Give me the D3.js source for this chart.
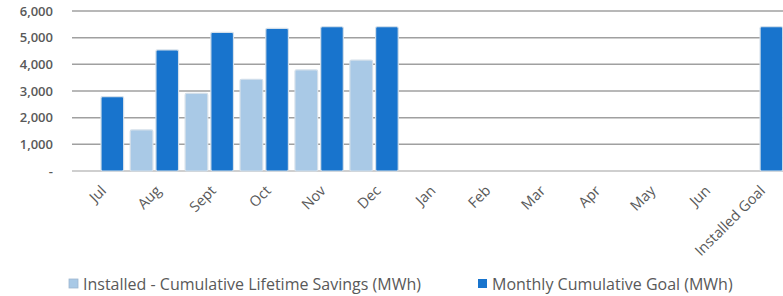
<!DOCTYPE html>
<html>
<head>
<meta charset="utf-8">
<script src="https://cdn.jsdelivr.net/npm/d3@7"></script>
<style>
  body { margin: 0; background: #fff; }
  text { font-family: "Open Sans", "Liberation Sans", sans-serif; fill: #595959; }
</style>
</head>
<body>
<svg id="chart"></svg>
<script>
const width = 783;
const height = 296;

const categories = ["Jul", "Aug", "Sept", "Oct", "Nov", "Dec", "Jan", "Feb", "Mar", "Apr", "May", "Jun", "Installed Goal"];
const installed = [0, 1540, 2910, 3440, 3790, 4160, null, null, null, null, null, null, null];
const goal = [2790, 4540, 5200, 5350, 5410, 5410, null, null, null, null, null, null, 5410];
const yTicks = [0, 1000, 2000, 3000, 4000, 5000, 6000];
const seriesNames = ["Installed - Cumulative Lifetime Savings (MWh)", "Monthly Cumulative Goal (MWh)"];
const colors = ["#a9c9e6", "#1874cd"];

const margin = { top: 11, right: 0, bottom: 125, left: 72 };

const svg = d3.select("#chart").attr("width", width).attr("height", height);

const x = d3.scaleBand()
    .domain(categories)
    .range([margin.left, 786])
    .paddingInner(0.12)
    .paddingOuter(0.06);

const xSub = d3.scaleBand()
    .domain([0, 1])
    .range([0, x.bandwidth()])
    .paddingInner(0.12);

const y = d3.scaleLinear()
    .domain([0, 6000])
    .range([height - margin.bottom, margin.top]);

// gridlines
svg.append("g")
    .selectAll("line")
    .data(yTicks)
    .enter()
    .append("line")
    .attr("x1", margin.left)
    .attr("x2", width)
    .attr("y1", d => y(d))
    .attr("y2", d => y(d))
    .attr("stroke", d => d === 0 ? "#bfbfbf" : "#a0a0a0")
    .attr("stroke-width", 1.5);

// y labels
svg.append("g")
    .selectAll("text")
    .data(yTicks)
    .enter()
    .append("text")
    .attr("x", 53)
    .attr("y", d => y(d))
    .attr("dy", "0.35em")
    .attr("text-anchor", "end")
    .style("font-size", "13px")
    .style("font-weight", "600")
    .text(d => d === 0 ? "-" : d3.format(",")(d));

const series = [installed, goal];

series.forEach((vals, s) => {
    svg.append("g")
        .selectAll("rect")
        .data(vals.map((v, i) => ({ cat: categories[i], v })).filter(d => d.v))
        .enter()
        .append("rect")
        .attr("x", d => x(d.cat) + xSub(s))
        .attr("y", d => y(d.v))
        .attr("width", xSub.bandwidth())
        .attr("height", d => y(0) - y(d.v))
        .attr("rx", 1.5)
        .attr("fill", colors[s])
        .attr("stroke", "#d3dfea")
        .attr("stroke-width", 1.2);
});

// x labels
svg.append("g")
    .selectAll("text")
    .data(categories)
    .enter()
    .append("text")
    .attr("transform", d => `translate(${x(d) + x.bandwidth() / 2 + 4},${y(0) + 17}) rotate(-45)`)
    .attr("text-anchor", "end")
    .attr("dy", "0.35em")
    .style("font-size", "14.5px")
    .text(d => d);

// legend
const legendX = [69, 478];
const legend = svg.append("g");
seriesNames.forEach((name, i) => {
    legend.append("rect")
        .attr("x", legendX[i])
        .attr("y", 279)
        .attr("width", 9)
        .attr("height", 9)
        .attr("fill", colors[i])
        .attr("stroke", i === 0 ? "#9fb7cf" : "none")
        .attr("stroke-width", 0.8);
    legend.append("text")
        .attr("x", legendX[i] + 14)
        .attr("y", 284)
        .attr("dy", "0.35em")
        .style("font-size", "16px")
        .text(name);
});
</script>
</body>
</html>
